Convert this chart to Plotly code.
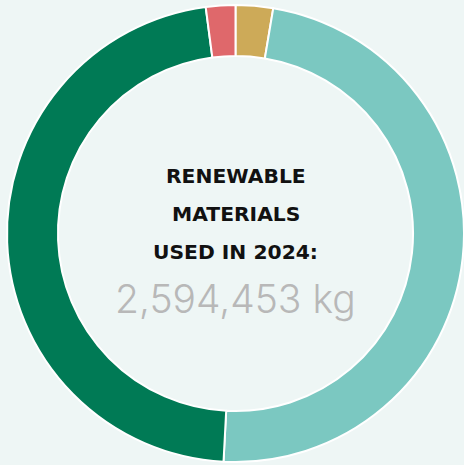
import plotly.graph_objects as go

labels = ["Material A", "Material B", "Material C", "Material D"]
values_kg = [68600, 1250300, 1221500, 54053]
colors = ["#CDAA58", "#7BC8C1", "#007A55", "#DF686B"]
title_lines = ["RENEWABLE", "MATERIALS", "USED IN 2024:"]
total_text = "2,594,453 kg"

W, H = 464, 465
BG = "#EEF6F5"
fig = go.Figure(go.Pie(
    labels=labels, values=values_kg, hole=0.777, sort=False,
    direction="clockwise", rotation=0,
    marker=dict(colors=colors, line=dict(color="white", width=2)),
    textinfo="none", hoverinfo="label+value+percent", showlegend=False,
    domain=dict(x=[7/W, 1.0], y=[2/H, 461/H]),
))

ys = [176, 214, 252]
for t, y in zip(title_lines, ys):
    fig.add_annotation(text=f"<b>{t}</b>", x=236/W, y=1 - y/H, xref="paper", yref="paper",
                       showarrow=False, xanchor="center", yanchor="middle",
                       font=dict(family="DejaVu Sans", size=20.3, color="#111111"))
fig.add_annotation(text=total_text, x=236/W, y=1 - 298/H, xref="paper", yref="paper",
                   showarrow=False, xanchor="center", yanchor="middle",
                   font=dict(family="Inter", size=39, color="#B8B8B8", weight=300))

fig.update_layout(width=W, height=H, margin=dict(l=0, r=0, t=0, b=0),
                  paper_bgcolor=BG, plot_bgcolor=BG)
fig.write_html("out.html", config={"displayModeBar": False},
               post_script=f"document.body.style.margin='0';document.body.style.background='{BG}';document.body.style.overflow='hidden';")
